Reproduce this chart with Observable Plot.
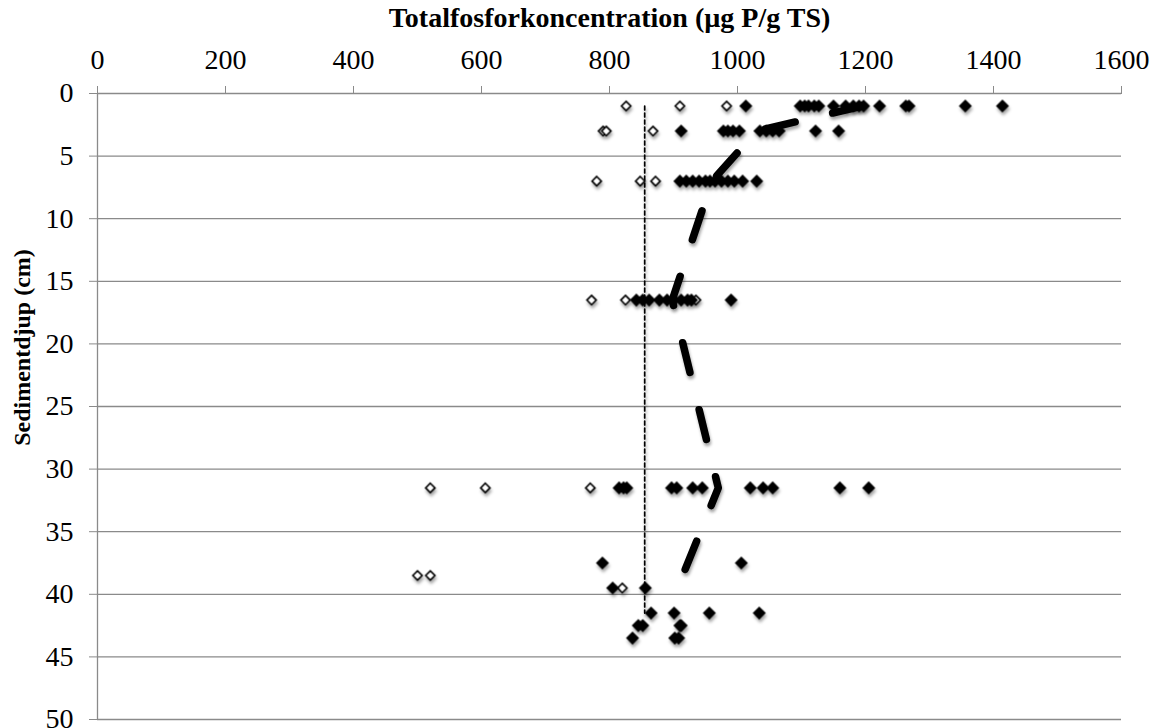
<!DOCTYPE html>
<html><head><meta charset="utf-8">
<script src="https://cdn.jsdelivr.net/npm/d3@7"></script>
<script src="https://cdn.jsdelivr.net/npm/@observablehq/plot@0.6"></script>
<style>body{margin:0;background:#fff}</style>
</head><body><div id="chart"></div>
<script>
// Axis ticks
const xTicks = [0, 200, 400, 600, 800, 1000, 1200, 1400, 1600];
const yTicks = [0, 5, 10, 15, 20, 25, 30, 35, 40, 45, 50];
const titleText = "Totalfosforkoncentration (µg P/g TS)";
const yLabelText = "Sedimentdjup (cm)";

// Sediment depths (cm) of the sample layers
const depths = [1, 3, 7, 16.5, 31.5, 37.5, 38.5, 39.5, 41.5, 42.5, 43.5];

// Filled diamonds: concentrations per depth (same order as depths)
const filledValues = [
  [1013, 1098, 1105, 1111, 1120, 1127, 1150, 1169, 1181, 1190, 1197, 1222, 1263, 1268, 1356, 1414],
  [912, 978, 985, 993, 1003, 1035, 1045, 1055, 1065, 1122, 1158],
  [910, 920, 930, 940, 950, 957, 965, 975, 985, 995, 1008, 1030],
  [842, 852, 862, 878, 890, 900, 912, 922, 928, 990],
  [815, 822, 827, 897, 905, 930, 945, 1020, 1040, 1055, 1160, 1205],
  [789, 1006],
  [],
  [805, 856],
  [865, 901, 956, 1034],
  [845, 852, 910, 912],
  [836, 902, 908]
];

// Open diamonds: concentrations per depth (same order as depths)
const openValues = [
  [826, 910, 983],
  [790, 795, 868],
  [780, 848, 872],
  [772, 825, 935],
  [520, 606, 770],
  [],
  [500, 520],
  [820],
  [],
  [],
  []
];

// Thick dashed profile line
const meanDepth = [1, 3, 7, 16.5, 31.5, 38.8];
const meanValue = [1195, 1030, 960, 898, 970, 912];

// Thin dotted vertical reference line
const refDepth = [1, 41.5];
const refValue = [855, 855];

const filled = depths.flatMap((d, i) => filledValues[i].map(v => ({depth: d, value: v})));
const open = depths.flatMap((d, i) => openValues[i].map(v => ({depth: d, value: v})));
const mean = meanDepth.map((d, i) => ({depth: d, value: meanValue[i]}));
const ref = refDepth.map((d, i) => ({depth: d, value: refValue[i]}));

const gray = "#8a8a8a";

const plot = Plot.plot({
  width: 1157,
  height: 728,
  marginLeft: 97,
  marginRight: 36,
  marginTop: 93,
  marginBottom: 9,
  style: {fontFamily: "'Liberation Serif', serif", fontSize: "28px", background: "#fff", color: "#000"},
  x: {domain: [0, 1600]},
  y: {domain: [0, 50], reverse: true},
  marks: [
    Plot.gridY(yTicks, {stroke: gray, strokeOpacity: 1, strokeWidth: 1.3}),
    Plot.ruleX([0], {stroke: gray, strokeWidth: 1.3}),
    Plot.axisX({anchor: "top", ticks: xTicks, tickFormat: d3.format("d"), tickSize: 8, tickPadding: 17, stroke: gray, fill: "#000", label: null, fontSize: 28}),
    Plot.axisY({anchor: "left", ticks: yTicks, tickFormat: d3.format("d"), tickSize: 8, tickPadding: 16, stroke: gray, fill: "#000", label: null, fontSize: 28}),
    Plot.text([titleText], {frameAnchor: "top", lineAnchor: "middle", textAnchor: "middle", dy: -75, fontWeight: "bold", fontSize: 28, fill: "#000"}),
    Plot.text([yLabelText], {frameAnchor: "left", lineAnchor: "middle", textAnchor: "middle", dx: -75, dy: -59, rotate: -90, fontWeight: "bold", fontSize: 24, fill: "#000"}),
    Plot.line(ref, {x: "value", y: "depth", stroke: "#000", strokeWidth: 1.7, strokeDasharray: "4,3"}),
    Plot.dot(open, {x: "value", y: "depth", symbol: "diamond2", r: 4.2, fill: "#fff", stroke: "#000", strokeWidth: 1.6}),
    Plot.dot(filled, {x: "value", y: "depth", symbol: "diamond2", r: 5.9, fill: "#000", stroke: "none"}),
    Plot.line(mean, {x: "value", y: "depth", stroke: "#000", strokeWidth: 7.5, strokeDasharray: "30.5,38.5", strokeLinecap: "round"})
  ]
});

// Soft drop shadow like the original
const svg = d3.select(plot);
const defs = svg.insert("defs", ":first-child");
const f = defs.append("filter").attr("id", "shadow")
  .attr("filterUnits", "userSpaceOnUse")
  .attr("x", 0).attr("y", 0).attr("width", 1157).attr("height", 728);
f.append("feDropShadow").attr("dx", 1).attr("dy", 3).attr("stdDeviation", 1.6).attr("flood-color", "#000").attr("flood-opacity", 0.35);
svg.selectAll("g[aria-label='dot'], g[aria-label='line']").attr("filter", "url(#shadow)");

document.getElementById("chart").appendChild(plot);
</script>
</body></html>
